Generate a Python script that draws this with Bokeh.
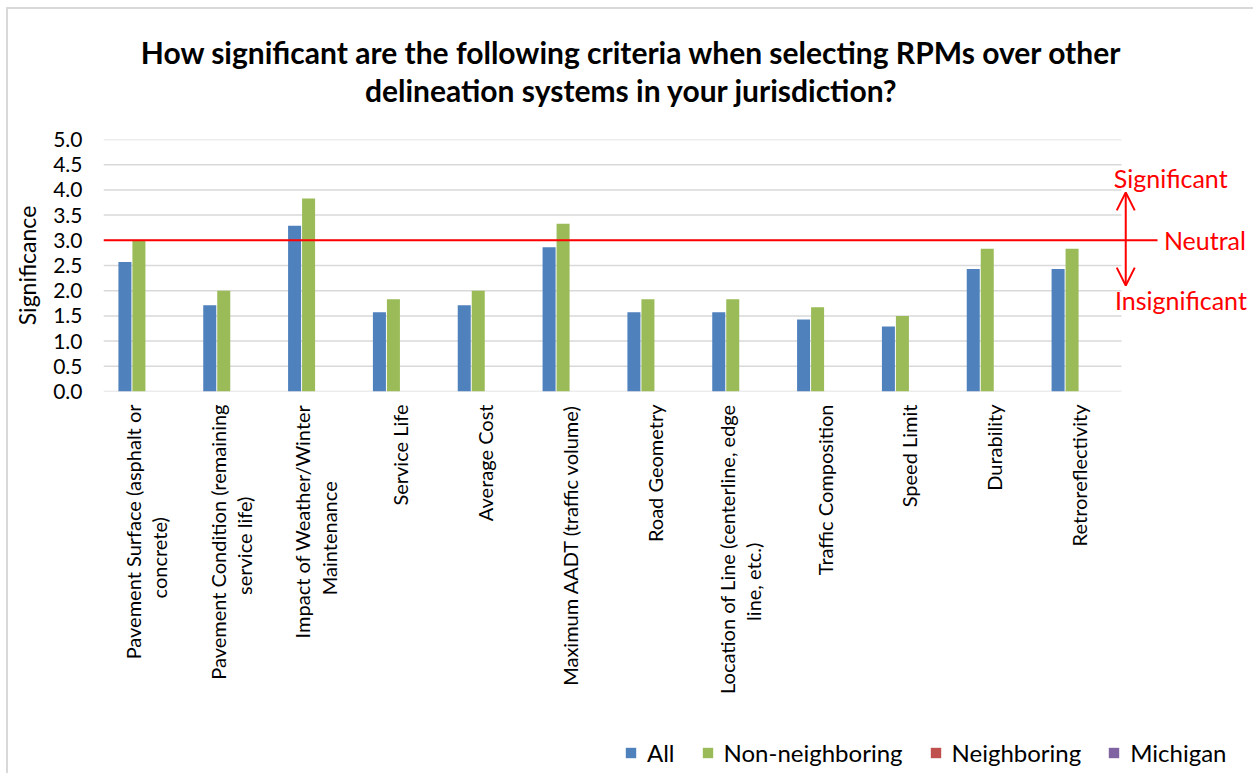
from bokeh.plotting import figure
from bokeh.layouts import column
from bokeh.models import (ColumnDataSource, Range1d, FixedTicker, NumeralTickFormatter,
                          Legend, LegendItem, Arrow, OpenHead, InlineStyleSheet)
from bokeh.core.properties import value
from bokeh.embed import file_html
from bokeh.resources import INLINE

# ---------------- data ----------------
categories = [
    "Pavement Surface (asphalt or\nconcrete)",
    "Pavement Condition (remaining\nservice life)",
    "Impact of Weather/Winter\nMaintenance",
    "Service Life",
    "Average Cost",
    "Maximum AADT (traffic volume)",
    "Road Geometry",
    "Location of Line (centerline, edge\nline, etc.)",
    "Traffic Composition",
    "Speed Limit",
    "Durability",
    "Retroreflectivity",
]
all_vals = [2.57, 1.71, 3.29, 1.57, 1.71, 2.86, 1.57, 1.57, 1.43, 1.29, 2.43, 2.43]
non_neighboring = [3.00, 2.00, 3.83, 1.83, 2.00, 3.33, 1.83, 1.83, 1.67, 1.50, 2.83, 2.83]
neighboring = [0.0] * 12
michigan = [0.0] * 12
series_names = ["All", "Non-neighboring", "Neighboring", "Michigan"]
y_ticks = [0.0, 0.5, 1.0, 1.5, 2.0, 2.5, 3.0, 3.5, 4.0, 4.5, 5.0]
neutral_value = 3.0
side_labels = ["Significant", "Neutral", "Insignificant"]
title_lines = ["How significant are the following criteria when selecting RPMs over other",
               "delineation systems in your jurisdiction?"]

# ---------------- styling ----------------
FONT = "Lato"
colors = ["#4F81BD", "#9BBB59", "#C0504D", "#8064A2"]
RED = "#FF0000"
GRID = "#D9D9D9"
W = 1253
FRAME_LEFT = 103
n = len(categories)
cat_px = 1018 / n                      # width of one category slot in pixels
x_end = (W - FRAME_LEFT) / cat_px


def centered_lines(label):
    """Pad the second line with no-break spaces so wrapped lines look centred."""
    parts = label.split("\n")
    if len(parts) < 2:
        return label
    pad = int(round((len(parts[0]) - len(parts[1])) * 9.0 / 2 / 3.9))
    return parts[0] + "\n" + parts[1] + "\u00a0" * max(pad, 0)


# ---------------- title ----------------
tf = figure(width=W, height=112, output_backend="svg", toolbar_location=None,
            x_range=Range1d(FRAME_LEFT, W), y_range=Range1d(112, 0),
            min_border_left=0, min_border_right=0, min_border_top=0, min_border_bottom=0)
tf.axis.visible = False
tf.grid.visible = False
tf.outline_line_color = None
tf.text(x=[631, 631], y=[51, 89], text=title_lines, text_align="center",
        text_baseline="middle", text_font=value(FONT), text_font_size="30px",
        text_font_style="bold", text_color="#000000")

# ---------------- main chart ----------------
centers = [i + 0.5 for i in range(n)]
bw = 0.165
offsets = [-1.5 * bw, -0.5 * bw, 0.5 * bw, 1.5 * bw]
series = [all_vals, non_neighboring, neighboring, michigan]

p = figure(width=W, height=599, output_backend="svg", toolbar_location=None,
           x_range=Range1d(0, x_end), y_range=Range1d(0, 5),
           min_border_left=FRAME_LEFT, min_border_right=0, min_border_top=27,
           min_border_bottom=320)
p.outline_line_color = None
p.xgrid.grid_line_color = None
p.ygrid.grid_line_color = None

# gridlines across the category area only
p.segment(x0=[0] * len(y_ticks), x1=[n] * len(y_ticks), y0=y_ticks, y1=y_ticks,
          line_color=GRID, line_width=1.5)

for vals, off, c in zip(series, offsets, colors):
    src = ColumnDataSource(dict(x=[cx + off for cx in centers], top=vals))
    p.vbar(x="x", top="top", width=bw * 0.93, source=src, fill_color=c, line_color=None)

# neutral line, arrows and side texts
p.segment(x0=[0], x1=[12.425], y0=[neutral_value], y1=[neutral_value],
          line_color=RED, line_width=2)
p.add_layout(Arrow(x_start=12.05, y_start=2.10, x_end=12.05, y_end=3.95,
                   start=OpenHead(size=18, line_color=RED, line_width=2),
                   end=OpenHead(size=18, line_color=RED, line_width=2),
                   line_color=RED, line_width=2))
p.text(x=[12.58, 12.50, 12.70], y=[4.23, 3.0, 1.81], text=side_labels,
       text_align=["center", "left", "center"], text_baseline="middle",
       text_font=value(FONT), text_font_size="25px", text_color=RED)

# y axis
p.yaxis.ticker = FixedTicker(ticks=y_ticks)
p.yaxis.formatter = NumeralTickFormatter(format="0.0")
p.yaxis.axis_line_color = None
p.yaxis.major_tick_line_color = None
p.yaxis.minor_tick_line_color = None
p.yaxis.major_tick_out = 0
p.yaxis.major_tick_in = 0
p.yaxis.major_label_standoff = 21
p.yaxis.major_label_text_font = FONT
p.yaxis.major_label_text_font_size = "21px"
p.yaxis.major_label_text_color = "#000000"
p.yaxis.axis_label = "Significance"
p.yaxis.axis_label_text_font = FONT
p.yaxis.axis_label_text_font_style = "normal"
p.yaxis.axis_label_text_font_size = "23px"
p.yaxis.axis_label_text_color = "#000000"
p.yaxis.axis_label_standoff = 9

# x axis (category labels)
p.xaxis.ticker = FixedTicker(ticks=centers)
p.xaxis.major_label_overrides = {cx: centered_lines(lab) for cx, lab in zip(centers, categories)}
p.xaxis.axis_line_color = None
p.xaxis.major_tick_line_color = None
p.xaxis.minor_tick_line_color = None
p.xaxis.major_tick_out = 0
p.xaxis.major_tick_in = 0
p.xaxis.major_label_orientation = 1.5707963267948966
p.xaxis.major_label_standoff = 13
p.xaxis.major_label_text_font = FONT
p.xaxis.major_label_text_font_size = "20px"
p.xaxis.major_label_text_line_height = 1.1
p.xaxis.major_label_text_color = "#000000"

# ---------------- legend ----------------
lf = figure(width=W, height=62, output_backend="svg", toolbar_location=None,
            x_range=Range1d(0, W), y_range=Range1d(0, 62),
            min_border_left=0, min_border_right=0, min_border_top=0, min_border_bottom=0)
lf.axis.visible = False
lf.grid.visible = False
lf.outline_line_color = None
lrs = [lf.vbar(x=[0], top=[0], width=1, fill_color=c, line_color=None) for c in colors]
legend = Legend(items=[LegendItem(label=nm, renderers=[r]) for nm, r in zip(series_names, lrs)],
                orientation="horizontal", location=(624 - FRAME_LEFT, 6))
legend.border_line_color = None
legend.background_fill_alpha = 0
legend.padding = 0
legend.margin = 0
legend.spacing = 26
legend.glyph_width = 13
legend.glyph_height = 13
legend.label_standoff = 10
legend.label_text_font = FONT
legend.label_text_font_size = "24px"
legend.label_text_color = "#000000"
lf.add_layout(legend)

border_css = InlineStyleSheet(css=""":host { position: relative; }
:host::after { content: ''; position: absolute; left: 6px; top: 7px; right: 0; bottom: 0;
  border-left: 2px solid #D9D9D9; border-top: 2px solid #D9D9D9; pointer-events: none; }""")
layout = column(tf, p, lf, spacing=0, stylesheets=[border_css])

open("out.html", "w").write(file_html(layout, INLINE))
